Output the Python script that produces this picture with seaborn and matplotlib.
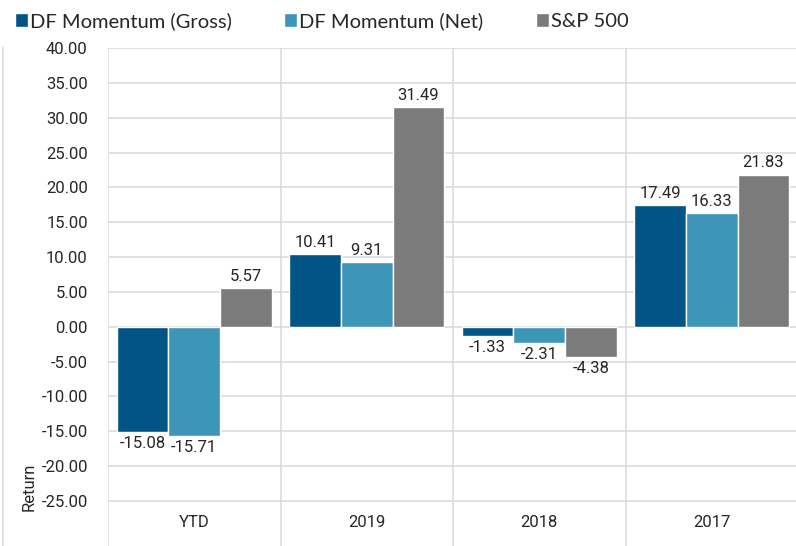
import matplotlib
matplotlib.use("Agg")
import matplotlib.pyplot as plt
from matplotlib import font_manager
from matplotlib.lines import Line2D
import pandas as pd
import seaborn as sns

# data
periods = ["YTD", "2019", "2018", "2017"]
series = ["DF Momentum (Gross)", "DF Momentum (Net)", "S&P 500"]
gross = [-15.08, 10.41, -1.33, 17.49]
net = [-15.71, 9.31, -2.31, 16.33]
sp500 = [5.57, 31.49, -4.38, 21.83]
y_ticks = list(range(-25, 45, 5))

colors = ["#005486", "#3d95b8", "#7b7b7b"]

rows = []
for name, vals in zip(series, [gross, net, sp500]):
    for p, v in zip(periods, vals):
        rows.append({"Period": p, "Series": name, "Return": v})
df = pd.DataFrame(rows)

sns.set_style("white")
installed = {f.name for f in font_manager.fontManager.ttflist}
narrow = "Liberation Sans Narrow" if "Liberation Sans Narrow" in installed else "Roboto"
legend_font = "Lato" if "Lato" in installed else "DejaVu Sans"
plt.rcParams["font.family"] = [narrow, "DejaVu Sans"]

fig = plt.figure(figsize=(7.96, 5.46), dpi=100)
ax = fig.add_axes([108 / 796, 0, 690 / 796, 498 / 546])

sns.barplot(data=df, x="Period", y="Return", hue="Series", hue_order=series,
            palette=colors, width=0.9, edgecolor="white", linewidth=1,
            saturation=1, ax=ax)

grid_c = "#d9d9d9"
ax.set_ylim(-31.46, 40)
ax.set_xlim(-0.5, 3.5)
ax.set_yticks(y_ticks)
ax.set_yticklabels([f"{t:.2f}" for t in y_ticks])
ax.set_xticks([-0.5, 0.5, 1.5, 2.5, 3.5], minor=True)
ax.grid(axis="y", which="major", color=grid_c, linewidth=1.1)
ax.grid(axis="x", which="minor", color=grid_c, linewidth=1.1)
ax.grid(axis="x", which="major", visible=False)
ax.set_axisbelow(True)
for s in ax.spines.values():
    s.set_visible(False)

ax.tick_params(axis="y", which="major", length=9.5, width=1.1, color=grid_c,
               pad=5, labelsize=12, labelcolor="#262626", direction="out")
ax.tick_params(axis="x", which="both", length=0, pad=-22, labelsize=12,
               labelcolor="#262626")

ax.set_xlabel("")
ax.set_ylabel("Return", fontsize=12, color="#262626")
ax.yaxis.set_label_coords(-0.104, 0.118)

for cont in ax.containers:
    ax.bar_label(cont, fmt="%.2f", padding=3, fontsize=12, color="#262626")

handles, labels = ax.get_legend_handles_labels()
ax.legend(handles, labels, loc="center left",
          bbox_to_anchor=(15 / 796, 1 - 21 / 546),
          bbox_transform=fig.transFigure, ncol=3, frameon=False,
          handlelength=0.65, handleheight=0.65, handletextpad=0.1,
          columnspacing=2.6, borderaxespad=0, borderpad=0,
          prop={"family": legend_font, "size": 14.5})

fig.add_artist(Line2D([2.5 / 796, 2.5 / 796], [0, 1 - 47 / 546],
                      transform=fig.transFigure, color=grid_c, linewidth=1.1))

fig.savefig("out.png", dpi=100)
